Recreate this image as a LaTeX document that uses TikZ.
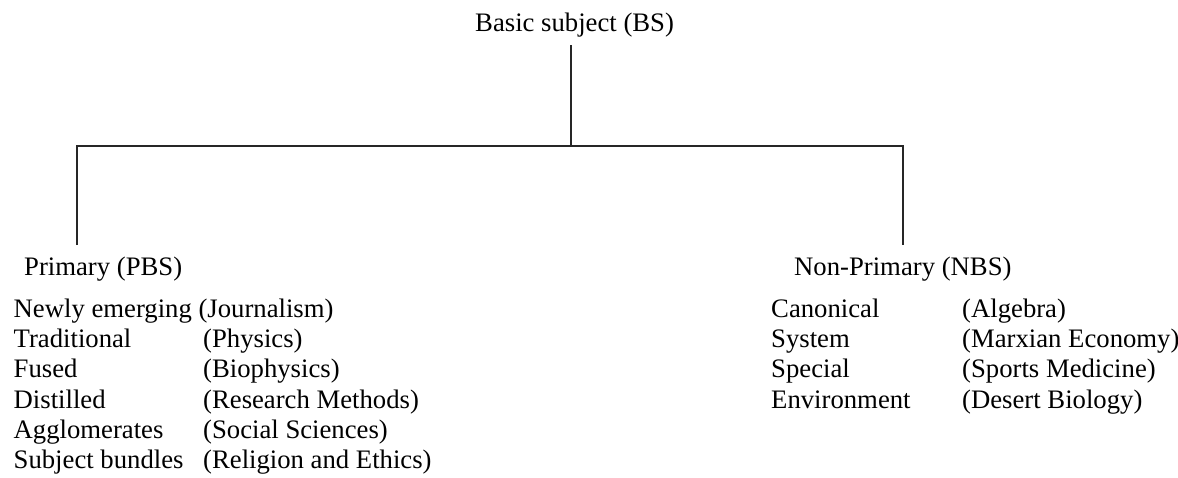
\documentclass[tikz,border=0pt]{standalone}
\usepackage{fontspec}
\setmainfont{Liberation Serif}
\begin{document}
\begin{tikzpicture}[x=1pt,y=-1pt,
  lbl/.style={anchor=base west,inner sep=0pt,font=\fontsize{26.7}{30}\selectfont},
  conn/.style={line width=1.4pt,black!85}]
\useasboundingbox (0,0) rectangle (1178,477);
% headings
\node[lbl] (bs) at (475,31) {Basic subject (BS)};
\node[lbl] (pbs) at (24,275) {Primary (PBS)};
\node[lbl] (nbs) at (794,275) {Non-Primary (NBS)};
% junction coordinates
\coordinate (ct) at (571,45);
\coordinate (j) at (571,146);
\coordinate (lt) at (77,146);
\coordinate (lb) at (77,245);
\coordinate (rt) at (903,146);
\coordinate (rb) at (903,245);
\draw[conn] (ct) -- (j);
\draw[conn] (lb) -- (lt) -- (rt) -- (rb);
% primary list
\node[lbl] (p1) at (13.5,317) {Newly emerging (Journalism)};
\foreach \i/\a/\b/\y in {2/Traditional/(Physics)/347,
                         3/Fused/(Biophysics)/377.5,
                         4/Distilled/(Research Methods)/408,
                         5/Agglomerates/(Social Sciences)/438,
                         6/Subject bundles/(Religion and Ethics)/468}{
  \node[lbl] (pa\i) at (13.5,\y) {\a};
  \node[lbl] (pb\i) at (203,\y) {\b};
}
% non-primary list
\foreach \i/\a/\b/\y in {1/Canonical/(Algebra)/317,
                         2/System/(Marxian Economy)/347,
                         3/Special/(Sports Medicine)/377.5,
                         4/Environment/(Desert Biology)/408}{
  \node[lbl] (na\i) at (771,\y) {\a};
  \node[lbl] (nb\i) at (962,\y) {\b};
}
\end{tikzpicture}
\end{document}
